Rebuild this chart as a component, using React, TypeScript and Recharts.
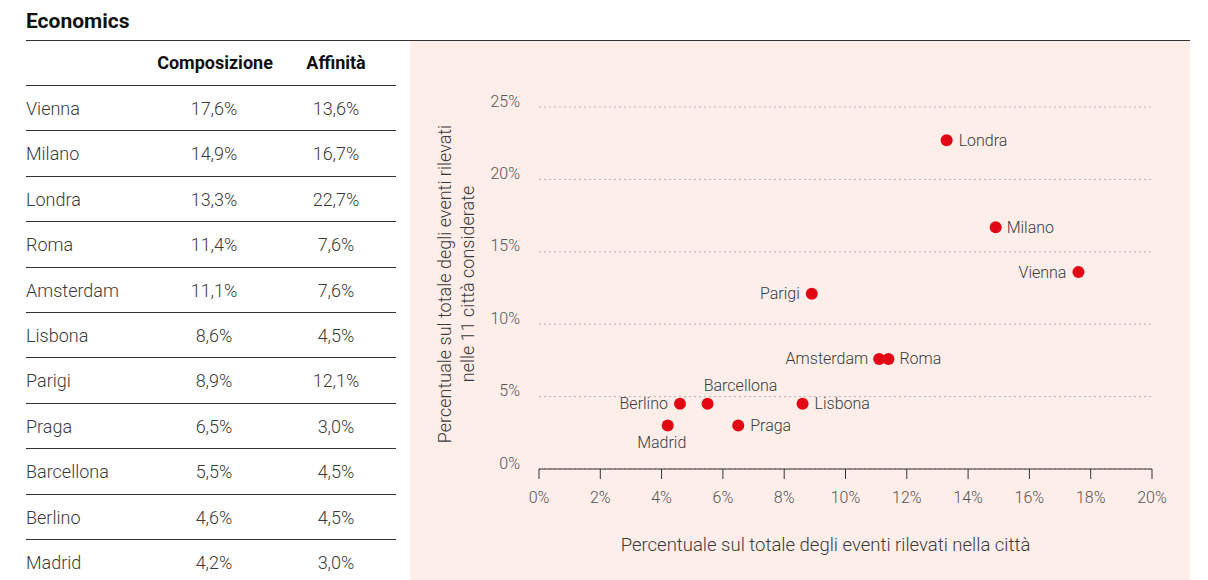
import { CartesianGrid, Label, Scatter, ScatterChart, XAxis, YAxis } from "recharts";

const cities = ["Vienna", "Milano", "Londra", "Roma", "Amsterdam", "Lisbona", "Parigi", "Praga", "Barcellona", "Berlino", "Madrid"];
const composizione = [17.6, 14.9, 13.3, 11.4, 11.1, 8.6, 8.9, 6.5, 5.5, 4.6, 4.2];
const affinita = [13.6, 16.7, 22.7, 7.6, 7.6, 4.5, 12.1, 3.0, 4.5, 4.5, 3.0];
const xTicks = [0, 2, 4, 6, 8, 10, 12, 14, 16, 18, 20];
const yTicks = [0, 5, 10, 15, 20, 25];

const points = cities.map((city, i) => ({ city, x: composizione[i], y: affinita[i] }));

const FONT = "Roboto, 'Noto Sans', sans-serif";
const RED = "#e30613";
const TXT = "#3a3a3a";

// where each city name sits relative to its dot
const labelPlacement: Record<string, { dx: number; dy: number; anchor: "start" | "end" | "middle" }> = {
  Londra: { dx: 12, dy: 0, anchor: "start" },
  Milano: { dx: 11, dy: 0, anchor: "start" },
  Vienna: { dx: -12, dy: 0, anchor: "end" },
  Parigi: { dx: -12, dy: 0, anchor: "end" },
  Amsterdam: { dx: -11, dy: 0, anchor: "end" },
  Roma: { dx: 11, dy: 0, anchor: "start" },
  Lisbona: { dx: 12, dy: 0, anchor: "start" },
  Praga: { dx: 12, dy: 0, anchor: "start" },
  Berlino: { dx: -12, dy: 0, anchor: "end" },
  Barcellona: { dx: 33, dy: -18, anchor: "middle" },
  Madrid: { dx: -6, dy: 17, anchor: "middle" },
};

const pct = (v: number) => `${v.toFixed(1).replace(".", ",")}%`;

function CityDot(props: any) {
  const { cx, cy, payload } = props;
  const p = labelPlacement[payload.city];
  return (
    <g>
      <circle cx={cx} cy={cy} r={6} fill={RED} />
      <text x={cx + p.dx} y={cy + p.dy} textAnchor={p.anchor} dominantBaseline="central" fontSize={16} fontWeight={300} fill={TXT} fontFamily={FONT}>
        {payload.city}
      </text>
    </g>
  );
}

function YTick({ x, y, payload }: any) {
  return (
    <text x={x} y={y - 6} textAnchor="end" dominantBaseline="central" fontSize={16} fontWeight={300} fill="#555" fontFamily={FONT}>
      {payload.value}%
    </text>
  );
}

function YAxisTitle({ viewBox }: any) {
  const cy = viewBox.y + viewBox.height / 2;
  return (
    <g transform={`translate(${viewBox.x + 34}, ${cy - 4}) rotate(-90)`}>
      <text x={0} y={0} textAnchor="middle" dominantBaseline="central" fontSize={18} fontWeight={300} fill={TXT} fontFamily={FONT}>
        Percentuale sul totale degli eventi rilevati
      </text>
      <text x={0} y={23} textAnchor="middle" dominantBaseline="central" fontSize={18} fontWeight={300} fill={TXT} fontFamily={FONT}>
        nelle 11 città considerate
      </text>
    </g>
  );
}

function XAxisTitle({ viewBox }: any) {
  // the title sits a little left of the plot centre
  const cx = viewBox.x + viewBox.width / 2 - 20;
  return (
    <text x={cx} y={viewBox.y + 76} textAnchor="middle" dominantBaseline="central" fontSize={18.5} fontWeight={300} fill={TXT} fontFamily={FONT}>
      Percentuale sul totale degli eventi rilevati nella città
    </text>
  );
}

function Table() {
  const rowH = 45.4;
  const top = 85;
  return (
    <div style={{ position: "absolute", left: 26, top: 0, width: 370, fontFamily: FONT }}>
      <div style={{ position: "absolute", top: 52, left: 124, width: 130, textAlign: "center", fontWeight: 700, fontSize: 18, color: "#111" }}>
        Composizione
      </div>
      <div style={{ position: "absolute", top: 52, left: 265, width: 90, textAlign: "center", fontWeight: 700, fontSize: 18, color: "#111" }}>
        Affinità
      </div>
      {cities.map((c, i) => (
        <div
          key={c}
          style={{
            position: "absolute",
            top: top + i * rowH,
            left: 0,
            width: 370,
            height: rowH,
            borderTop: "1px solid #333",
            fontSize: 18,
            fontWeight: 300,
            color: TXT,
            lineHeight: `${rowH}px`,
          }}
        >
          <span style={{ position: "absolute", left: 0 }}>{c}</span>
          <span style={{ position: "absolute", left: 128, width: 120, textAlign: "center" }}>{pct(composizione[i])}</span>
          <span style={{ position: "absolute", left: 270, width: 80, textAlign: "center" }}>{pct(affinita[i])}</span>
        </div>
      ))}
    </div>
  );
}

export default function App() {
  return (
    <div style={{ position: "absolute", left: 0, top: 0, width: 1208, height: 580, background: "#fff", overflow: "hidden", fontFamily: FONT }}>
      <div style={{ position: "absolute", left: 26, top: 9, fontSize: 21, fontWeight: 700, color: "#111" }}>Economics</div>
      <div style={{ position: "absolute", left: 26, top: 40, width: 1164, height: 1, background: "#333" }} />
      <Table />
      <div style={{ position: "absolute", left: 410, top: 41, width: 780, height: 539, background: "#fdeeea" }}>
        <ScatterChart width={780} height={539} margin={{ top: 66, right: 38, bottom: 0, left: 0 }}>
          <CartesianGrid horizontal vertical={false} stroke="#b8b0ae" strokeDasharray="2 3" />
          <XAxis
            type="number"
            dataKey="x"
            domain={[0, 20]}
            ticks={xTicks}
            height={111}
            tickFormatter={(v) => `${v}%`}
            axisLine={{ stroke: "#333" }}
            tickLine={{ stroke: "#333" }}
            tickSize={10}
            tickMargin={13}
            tick={{ fontSize: 16, fontWeight: 300, fill: "#555", fontFamily: FONT }}
          >
            <Label content={<XAxisTitle />} />
          </XAxis>
          <YAxis
            type="number"
            dataKey="y"
            domain={[0, 25]}
            ticks={yTicks}
            width={129}
            axisLine={false}
            tickLine={false}
            tickSize={0}
            tickMargin={19}
            tick={<YTick />}
          >
            <Label content={<YAxisTitle />} />
          </YAxis>
          <Scatter data={points} shape={<CityDot />} isAnimationActive={false} />
        </ScatterChart>
      </div>
    </div>
  );
}
